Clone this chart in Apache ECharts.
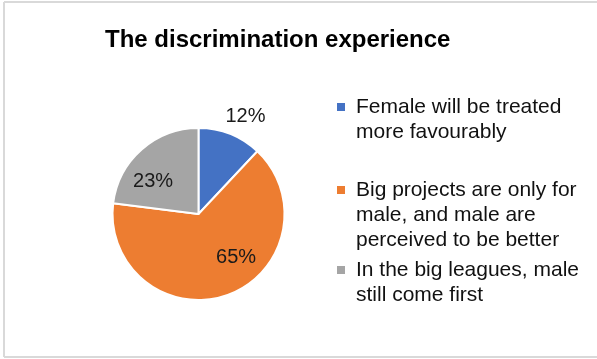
<!DOCTYPE html>
<html>
<head>
<meta charset="utf-8">
<script src="https://cdn.jsdelivr.net/npm/echarts@6/dist/echarts.min.js"></script>
<style>
  html, body { margin: 0; padding: 0; background: #fff; }
  #chart { width: 597px; height: 359px; }
</style>
</head>
<body>
<div id="chart"></div>
<script>
// Survey answers and their shares (percent)
const titleText = 'The discrimination experience';
const categories = [
  'Female will be treated\nmore favourably',
  'Big projects are only for\nmale, and male are\nperceived to be better',
  'In the big leagues, male\nstill come first'
];
const shares = [12, 65, 23];
const sliceColors = ['#4472C4', '#ED7D31', '#A5A5A5'];

// Label nudges from the default inside spot (px)
const labelShift = [[30, -55], [22, 0], [-15, 2]];
// Top edge of each legend square (px)
const legendSquareTops = [103, 186, 266];

const FONT = '"Liberation Sans", Arial, Helvetica, sans-serif';
const LINE_H = 25;
const SQ = 8;       // legend square size
const ICON_W = 19;  // square plus the gap before the text (text starts at ICON_W + 5)

const chart = echarts.init(document.getElementById('chart'), null, { renderer: 'canvas' });

// One legend per entry so each block sits at its own height.
// The icon box is as tall as the text block minus one line, with the square
// at its top, so the square lines up with the first text line.
const legends = categories.map((name, i) => {
  const lines = name.split('\n').length;
  const boxH = (lines - 1) * LINE_H + SQ;
  const iconPath = 'path://M0,0H' + SQ + 'V' + SQ + 'H0Z' +
    'M' + (ICON_W - 5) + ',' + (boxH - 0.01) + 'L' + (ICON_W - 5) + ',' + boxH;
  return {
    data: [{ name: name, icon: iconPath }],
    left: 337,
    top: legendSquareTops[i] - (LINE_H - SQ) / 2,
    padding: 0,
    orient: 'vertical',
    itemWidth: ICON_W - 5,
    itemHeight: boxH,
    selectedMode: false,
    itemStyle: { borderWidth: 0 },
    textStyle: {
      fontFamily: FONT,
      fontSize: 21,
      color: '#111',
      lineHeight: LINE_H
    }
  };
});

// chart frame: top, left and bottom edges (the right edge runs past the page)
const frameStyle = { stroke: '#d9d9d9', lineWidth: 2 };
const frame = [
  { x1: 4, y1: 2, x2: 597, y2: 2 },
  { x1: 4, y1: 2, x2: 4, y2: 357 },
  { x1: 4, y1: 357, x2: 597, y2: 357 }
].map(s => ({ type: 'line', z: -1, silent: true, shape: s, style: frameStyle }));

chart.setOption({
  animation: false,
  backgroundColor: '#fff',
  title: {
    text: titleText,
    left: 105,
    top: 28,
    padding: 0,
    textStyle: { fontFamily: FONT, fontSize: 24, fontWeight: 'bold', color: '#000' }
  },
  legend: legends,
  graphic: frame,
  series: [{
    type: 'pie',
    center: [198.5, 214],
    radius: 86,
    startAngle: 90,
    clockwise: true,
    avoidLabelOverlap: false,
    data: categories.map((name, i) => ({
      name: name,
      value: shares[i],
      itemStyle: { color: sliceColors[i] }
    })),
    itemStyle: { borderColor: '#fff', borderWidth: 2 },
    label: {
      show: true,
      position: 'inside',
      formatter: '{c}%',
      fontFamily: FONT,
      fontSize: 20,
      color: '#1a1a1a'
    },
    labelLine: { show: false },
    labelLayout: function (params) {
      const s = labelShift[params.dataIndex];
      return { dx: s[0], dy: s[1] };
    },
    emphasis: { disabled: true }
  }]
});
</script>
</body>
</html>
